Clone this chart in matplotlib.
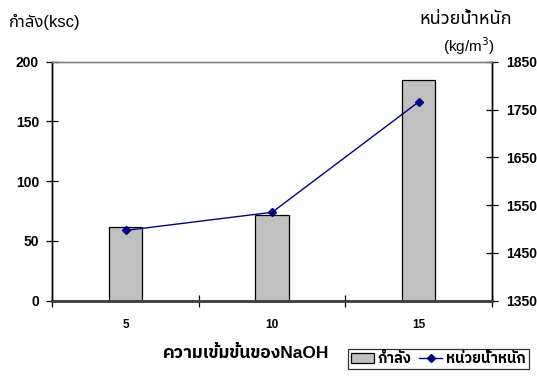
import matplotlib
matplotlib.use('Agg')
from matplotlib import pyplot as plt

# ข้อมูลกำลังอัดและหน่วยน้ำหนักตามความเข้มข้นของ NaOH
naoh = ['5', '10', '15']
strength = [62, 72, 185]        # ksc
unit_weight = [1497, 1535, 1766]  # kg/m3

plt.rcParams['font.family'] = ['Liberation Sans', 'Noto Sans Thai']
thai_bold = ['Liberation Sans', 'IBM Plex Sans Thai']

W, H = 537, 378
fig = plt.figure(figsize=(W / 100, H / 100), dpi=100)
ax = fig.add_axes([52.3 / W, 1 - 300.7 / H, (492 - 52.3) / W, (300.7 - 61.7) / H])
ax2 = ax.twinx()

x = range(len(naoh))
ax.bar(x, strength, width=0.228, color='#c0c0c0', edgecolor='black', linewidth=0.9, zorder=2)
ax2.plot(x, unit_weight, color='#000080', linewidth=1, marker='D', markersize=4, zorder=3)

ax.set_xlim(-0.5, 2.5)
ax.set_ylim(0, 200)
ax2.set_ylim(1350, 1850)
ax.set_yticks([0, 50, 100, 150, 200])
ax2.set_yticks([1350, 1450, 1550, 1650, 1750, 1850])

# ขีดแกน x อยู่ที่ขอบกลุ่ม ป้ายอยู่กลางกลุ่ม
ax.set_xticks([-0.5, 0.5, 1.5, 2.5])
ax.set_xticklabels([])
ax.set_xticks(list(x), minor=True)
ax.set_xticklabels(naoh, minor=True, fontweight='bold', fontsize=8.5)
ax.tick_params(axis='x', which='minor', length=0, pad=13)
ax.tick_params(axis='x', which='major', direction='inout', length=9, width=0.9)
ax.tick_params(axis='y', direction='inout', length=9, width=0.9, labelsize=10, pad=5)
ax2.tick_params(axis='y', direction='inout', length=9, width=0.9, labelsize=10, pad=6)
for lab in ax.get_yticklabels() + ax2.get_yticklabels():
    lab.set_fontweight('bold')

for a in (ax, ax2):
    a.spines['top'].set_color('#808080')
    a.spines['top'].set_linewidth(1)
    a.spines['bottom'].set_color('#404040')
    a.spines['bottom'].set_linewidth(1.8)
    a.spines['left'].set_linewidth(1)
    a.spines['right'].set_linewidth(1)

fig.text(9 / W, 1 - 22 / H, 'กำลัง(ksc)', fontsize=12, va='center', ha='left')
fig.text(466 / W, 1 - 19 / H, 'หน่วยน้ำหนัก', fontsize=13, va='center', ha='center')
fig.text(469 / W, 1 - 46 / H, '(kg/m$^3$)', fontsize=11, va='center', ha='center')
fig.text(246 / W, 1 - 353 / H, 'ความเข้มข้นของNaOH', fontsize=12.5, fontweight='bold',
         family=thai_bold, va='center', ha='center')

handles = [plt.Rectangle((0, 0), 1, 1, facecolor='#c0c0c0', edgecolor='black', linewidth=0.9),
           plt.Line2D([], [], color='#000080', linewidth=1, marker='D', markersize=4)]
leg = fig.legend(handles, ['กำลัง', 'หน่วยน้ำหนัก'], loc='upper left',
                 bbox_to_anchor=(348 / W, 1 - 349 / H), ncol=2, frameon=True,
                 fancybox=False, edgecolor='black', borderpad=0.2, borderaxespad=0,
                 handlelength=1.6, handletextpad=0.25, columnspacing=0.5,
                 prop={'weight': 'bold', 'size': 10.5, 'family': thai_bold})
leg.get_frame().set_linewidth(0.9)

fig.savefig('out.png', dpi=100)
